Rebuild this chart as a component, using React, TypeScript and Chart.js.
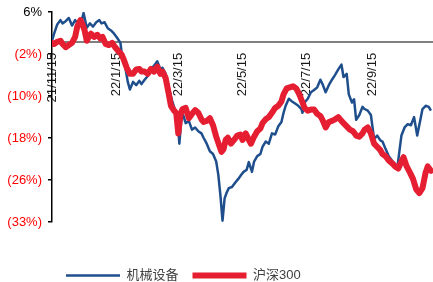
import React, { useEffect, useRef } from 'react';
import { Chart, registerables } from 'chart.js';

Chart.register(...registerables);

const seriesNames = ['机械设备', '沪深300'];

// days since 2021-11-15
const machineryDays = [
  0, 2, 5, 8, 10, 13, 16, 19, 22, 25,
  28, 30, 33, 36, 39, 42, 45, 47, 50, 53,
  56, 59, 62, 65, 66, 69, 72, 74, 77, 80,
  83, 85, 88, 91, 94, 97, 100, 103, 105, 108,
  111, 114, 117, 119, 121, 123, 124, 127, 130, 133,
  136, 139, 142, 144, 147, 150, 153, 156, 158, 160,
  162, 164, 166, 168, 171, 174, 177, 180, 182, 185,
  187, 190, 192, 195, 198, 200, 203, 206, 209, 212,
  215, 218, 220, 222, 225, 228, 231, 234, 237, 238,
  240, 243, 246, 249, 252, 255, 257, 260, 263, 266,
  269, 272, 275, 277, 280, 282, 285, 287, 289, 292,
  295, 297, 300, 303, 306, 309, 312, 314, 317, 320,
  323, 326, 328, 330, 332, 335, 338, 341, 344, 347,
  350, 352, 355, 358, 360,
];
const machineryValues = [
  0.2, 1.5, 3.2, 4.0, 3.4, 3.8, 4.4, 3.0, 4.0, 3.2,
  3.8, 5.3, 2.6, 3.4, 2.8, 3.6, 4.0, 3.4, 3.6, 2.5,
  2.1, 1.5, 0.7, -0.2, -1.7, -4.0, -7.4, -8.8, -7.4, -8.0,
  -7.2, -7.8, -7.0, -6.3, -5.1, -4.4, -3.6, -5.1, -4.8, -5.9,
  -8.4, -10.8, -12.7, -13.5, -18.8, -14.1, -13.1, -15.0, -14.6, -16.2,
  -15.8, -16.5, -16.9, -17.7, -18.8, -20.2, -20.7, -22.1, -24.5, -28.3,
  -33.0, -28.9, -27.8, -27.0, -26.8, -26.0, -25.3, -24.5, -24.0, -23.6,
  -22.2, -24.0, -22.1, -21.1, -20.7, -19.4, -18.4, -18.8, -16.9, -17.1,
  -15.6, -14.8, -13.1, -11.8, -10.5, -11.0, -11.4, -11.8, -12.4, -13.1,
  -11.2, -10.5, -9.3, -8.9, -8.4, -7.0, -7.8, -9.3, -8.0, -7.0,
  -6.1, -5.1, -4.2, -6.5, -5.9, -9.7, -11.2, -10.6, -14.4, -13.5,
  -12.0, -12.4, -12.7, -13.5, -17.9, -17.3, -18.2, -18.4, -19.8, -21.1,
  -21.9, -22.6, -23.4, -20.3, -17.3, -15.8, -15.2, -15.4, -13.9, -17.3,
  -14.4, -12.4, -11.8, -12.0, -12.7,
];

const csi300Days = [
  0, 2, 5, 8, 10, 13, 16, 19, 22, 24,
  27, 29, 31, 33, 35, 37, 40, 43, 46, 48,
  51, 54, 57, 60, 63, 66, 68, 71, 74, 77,
  80, 83, 85, 88, 91, 94, 97, 100, 103, 105,
  108, 111, 113, 116, 118, 120, 122, 124, 127, 130,
  133, 136, 139, 142, 144, 147, 150, 153, 156, 159,
  161, 163, 165, 167, 170, 173, 176, 179, 181, 184,
  187, 189, 192, 195, 198, 200, 203, 206, 209, 212,
  215, 218, 220, 223, 226, 229, 232, 235, 238, 240,
  243, 246, 249, 252, 255, 257, 260, 263, 266, 269,
  272, 275, 277, 280, 283, 286, 289, 292, 295, 297,
  300, 303, 306, 309, 312, 314, 317, 320, 323, 326,
  329, 332, 334, 337, 340, 343, 346, 349, 352, 355,
  357, 360,
];
const csi300Values = [
  -0.2, -0.4, 0.0, 0.2, -0.4, -1.0, -0.6, -0.2, 0.9, 2.8,
  4.0, 3.2, 2.1, 0.2, 0.9, 1.5, 0.9, 1.3, 0.6, 0.9,
  -0.4, -0.6, -0.2, -1.0, -1.7, -2.3, -3.2, -4.8, -5.9, -5.9,
  -5.1, -5.0, -5.5, -5.5, -5.9, -5.0, -5.5, -4.6, -5.9, -5.5,
  -6.7, -9.7, -11.8, -12.7, -13.1, -16.9, -13.5, -12.4, -12.2, -14.1,
  -13.3, -12.6, -13.1, -14.3, -14.8, -14.6, -14.1, -15.4, -17.5, -19.2,
  -20.3, -19.8, -18.1, -17.7, -18.8, -18.1, -17.3, -17.1, -18.1, -16.9,
  -18.1, -18.8, -17.5, -16.5, -16.0, -15.0, -14.3, -13.9, -13.1, -12.2,
  -11.8, -11.0, -9.7, -8.6, -8.4, -8.2, -8.6, -9.7, -11.2, -12.2,
  -12.7, -12.5, -12.5, -13.3, -13.7, -14.4, -15.8, -14.8, -14.6, -14.3,
  -13.9, -14.6, -15.0, -15.6, -16.2, -16.5, -17.3, -17.5, -16.9, -16.2,
  -15.8, -16.9, -18.8, -19.4, -20.0, -20.7, -21.1, -21.9, -22.4, -23.0,
  -23.4, -22.1, -21.3, -23.0, -24.1, -25.3, -27.2, -27.9, -27.0, -24.1,
  -23.0, -23.8,
];

const xTickDays = [0, 61, 120, 181, 242, 304];
const xTickLabels = ['21/11/15', '22/1/15', '22/3/15', '22/5/15', '22/7/15', '22/9/15'];
const yTickValues = [5.5, -2.25, -10, -17.75, -25.5, -33.25];
const yTickLabels = ['6%', '(2%)', '(10%)', '(18%)', '(26%)', '(33%)'];

const FONT = "'Liberation Sans', 'Noto Sans CJK SC', Arial, sans-serif";

export default function App() {
  const ref = useRef<HTMLCanvasElement | null>(null);

  useEffect(() => {
    document.body.style.margin = '0';
    document.body.style.overflow = 'hidden';
    document.documentElement.style.overflow = 'hidden';
    const canvas = ref.current;
    if (!canvas) return;

    const chart = new Chart(canvas, {
      type: 'line',
      data: {
        datasets: [
          {
            label: seriesNames[0],
            data: machineryDays.map((d, i) => ({ x: d, y: machineryValues[i] })),
            borderColor: '#1f4e8c',
            backgroundColor: '#1f4e8c',
            borderWidth: 2.5,
            pointRadius: 0,
            tension: 0,
            borderJoinStyle: 'round',
            order: 1,
          },
          {
            label: seriesNames[1],
            data: csi300Days.map((d, i) => ({ x: d, y: csi300Values[i] })),
            borderColor: '#e61e32',
            backgroundColor: '#e61e32',
            borderWidth: 6,
            pointRadius: 0,
            tension: 0,
            borderJoinStyle: 'round',
            borderCapStyle: 'round',
            order: 0,
          },
        ],
      },
      options: {
        responsive: false,
        animation: false,
        devicePixelRatio: 1,
        layout: { padding: { top: 12, left: 0, right: 0, bottom: 0 } },
        plugins: {
          tooltip: { enabled: false },
          legend: {
            position: 'bottom',
            align: 'start',
            fullSize: false,
            title: { display: true, text: '', font: { size: 10 }, padding: { top: 21, bottom: 0 } },
            labels: {
              usePointStyle: true,
              pointStyle: 'line',
              pointStyleWidth: 54,
              padding: 14,
              color: '#404040',
              font: { family: FONT, size: 13 },
              sort: (a: any, b: any) => a.datasetIndex - b.datasetIndex,
            },
          },
        },
        scales: {
          x: {
            type: 'linear',
            min: 0,
            max: 362,
            position: { y: 0 } as any,
            grid: { display: false },
            border: { display: true, color: '#808080', width: 2 },
            afterBuildTicks: (s: any) => {
              s.ticks = xTickDays.map((v) => ({ value: v }));
            },
            afterFit: (s: any) => {
              s.height = 0;
              s.paddingLeft = 0;
              s.paddingRight = 0;
            },
            ticks: {
              autoSkip: false,
              minRotation: 90,
              maxRotation: 90,
              padding: 3,
              color: '#1a1a1a',
              font: { family: FONT, size: 13 },
              callback: (_v: any, i: number) => xTickLabels[i] ?? '',
            },
          },
          y: {
            type: 'linear',
            min: -33.25,
            max: 5.5,
            afterBuildTicks: (s: any) => {
              s.ticks = yTickValues.map((v) => ({ value: v }));
            },
            afterFit: (s: any) => {
              s.width = 52;
              s.paddingTop = 0;
              s.paddingBottom = 0;
            },
            grid: {
              display: true,
              drawOnChartArea: false,
              drawTicks: true,
              tickLength: 4,
              color: '#000000',
              lineWidth: 1.5,
            },
            border: { display: true, color: '#000000', width: 1.5 },
            ticks: {
              padding: 6,
              color: (ctx: any) => (ctx.index === 0 ? '#000000' : '#ff0000'),
              font: { family: FONT, size: 13 },
              callback: (_v: any, i: number) => yTickLabels[i] ?? '',
            },
          },
        },
      },
    } as any);

    return () => chart.destroy();
  }, []);

  return (
    <div style={{ width: 433, height: 292 }}>
      <canvas ref={ref} width={433} height={292} style={{ display: 'block' }} />
    </div>
  );
}
